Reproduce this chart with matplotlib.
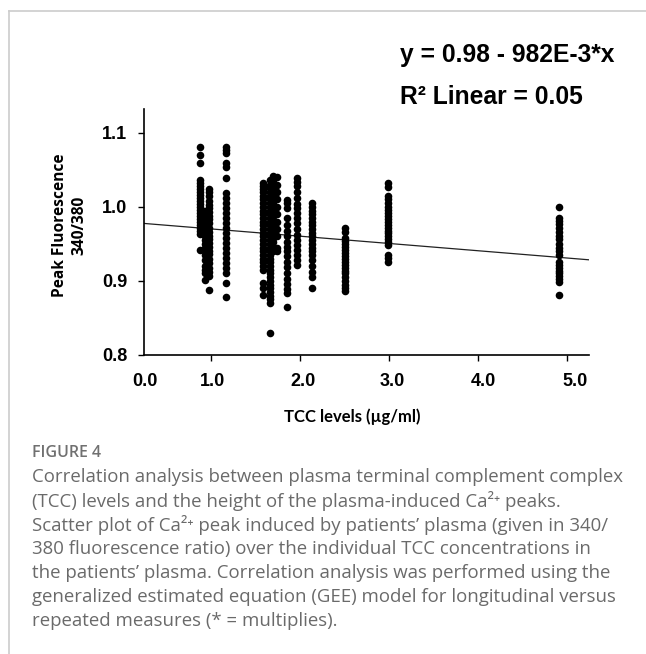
import numpy as np
import matplotlib
matplotlib.use('Agg')
import matplotlib.pyplot as plt
from matplotlib.lines import Line2D

# TCC level of each column of dots (ug/ml)
tcc_levels = [0.88, 0.93, 0.98, 1.17, 1.58, 1.66, 1.70, 1.74, 1.85, 1.97, 2.13, 2.50, 2.99, 4.91]

# peak fluorescence 340/380 for each column
peaks_088 = [1.081, 1.070, 1.059, 1.036, 1.032, 1.028, 1.024, 1.020, 1.016, 1.012, 1.008, 1.004,
             1.000, 0.996, 0.992, 0.988, 0.984, 0.980, 0.976, 0.972, 0.968, 0.963, 0.942]
peaks_093 = [0.995, 0.990, 0.985, 0.975, 0.968, 0.960, 0.955, 0.950, 0.945, 0.940, 0.935, 0.928,
             0.920, 0.915, 0.910, 0.901]
peaks_098 = [1.024, 1.020, 1.015, 1.008, 1.002, 0.998, 0.993, 0.988, 0.983, 0.978, 0.972, 0.966,
             0.961, 0.956, 0.951, 0.946, 0.941, 0.936, 0.930, 0.924, 0.918, 0.912, 0.906, 0.888]
peaks_117 = [1.081, 1.077, 1.072, 1.059, 1.054, 1.039, 1.018, 1.012, 1.005, 0.998, 0.991, 0.985,
             0.978, 0.971, 0.964, 0.958, 0.951, 0.944, 0.937, 0.931, 0.924, 0.917, 0.910, 0.897, 0.878]
peaks_158 = [1.032, 1.028, 1.024, 1.020, 1.015, 1.010, 1.005, 1.000, 0.995, 0.990, 0.985, 0.980,
             0.975, 0.970, 0.965, 0.960, 0.955, 0.950, 0.945, 0.940, 0.935, 0.930, 0.925, 0.920,
             0.915, 0.897, 0.890, 0.881]
peaks_166 = [1.036, 1.030, 1.025, 1.020, 1.015, 1.010, 1.005, 1.000, 0.995, 0.990, 0.985, 0.980,
             0.975, 0.970, 0.965, 0.960, 0.955, 0.950, 0.945, 0.940, 0.935, 0.930, 0.925, 0.920,
             0.915, 0.910, 0.905, 0.900, 0.895, 0.890, 0.885, 0.880, 0.875, 0.870, 0.830]
peaks_170 = [1.041, 1.036, 1.030, 1.024, 1.018, 1.012, 1.006, 1.000, 0.994, 0.988, 0.982, 0.976,
             0.970, 0.964, 0.958, 0.952, 0.946, 0.940]
peaks_174 = [1.040, 1.030, 1.020, 1.010, 1.000, 0.990, 0.980, 0.970, 0.960, 0.945, 0.940]
peaks_185 = [1.009, 1.005, 0.998, 0.985, 0.975, 0.968, 0.960, 0.953, 0.946, 0.940, 0.933, 0.926,
             0.919, 0.910, 0.903, 0.896, 0.889, 0.883, 0.865]
peaks_197 = [1.039, 1.034, 1.028, 1.020, 1.012, 1.004, 0.998, 0.992, 0.985, 0.978, 0.970, 0.962,
             0.955, 0.948, 0.942, 0.935, 0.928, 0.921]
peaks_213 = [1.005, 1.000, 0.995, 0.990, 0.985, 0.980, 0.975, 0.970, 0.965, 0.960, 0.955, 0.950,
             0.945, 0.940, 0.935, 0.928, 0.920, 0.912, 0.905, 0.891]
peaks_250 = [0.971, 0.966, 0.958, 0.954, 0.950, 0.946, 0.942, 0.938, 0.934, 0.930, 0.926, 0.922,
             0.918, 0.914, 0.910, 0.905, 0.900, 0.895, 0.890, 0.886]
peaks_299 = [1.032, 1.027, 1.014, 1.010, 1.005, 1.000, 0.996, 0.992, 0.988, 0.984, 0.980, 0.976,
             0.972, 0.968, 0.964, 0.960, 0.956, 0.952, 0.949, 0.935, 0.931, 0.926]
peaks_491 = [1.000, 0.985, 0.981, 0.977, 0.972, 0.966, 0.961, 0.956, 0.950, 0.945, 0.940, 0.935,
             0.926, 0.922, 0.918, 0.914, 0.910, 0.906, 0.902, 0.899, 0.881]

all_peaks = [peaks_088, peaks_093, peaks_098, peaks_117, peaks_158, peaks_166, peaks_170,
             peaks_174, peaks_185, peaks_197, peaks_213, peaks_250, peaks_299, peaks_491]

# fitted line: y = 0.98 - 982E-3*x
intercept = 0.98
slope = -0.00982

x_ticks = [1, 2, 3, 4, 5]
x_labels = ['0.0', '1.0', '2.0', '3.0', '4.0', '5.0']
x_label_pos = [0.26, 1.02, 2.03, 3.04, 4.06, 5.09]
y_ticks = [0.8, 0.9, 1.0, 1.1]

caption_lines = [
    "Correlation analysis between plasma terminal complement complex",
    "(TCC) levels and the height of the plasma-induced Ca\u00b2\u207a peaks.",
    "Scatter plot of Ca\u00b2\u207a peak induced by patients\u2019 plasma (given in 340/",
    "380 fluorescence ratio) over the individual TCC concentrations in",
    "the patients\u2019 plasma. Correlation analysis was performed using the",
    "generalized estimated equation (GEE) model for longitudinal versus",
    "repeated measures (* = multiplies).",
]

# flatten columns into x/y arrays
xs = []
ys = []
for lvl, col in zip(tcc_levels, all_peaks):
    xs += [lvl] * len(col)
    ys += col
xs = np.array(xs)
ys = np.array(ys)

fig = plt.figure(figsize=(6.46, 6.54), dpi=100)
ax = fig.add_axes([0.2229, 0.4572, 0.6889, 0.3761])

ax.scatter(xs, ys, s=30, color='black', linewidths=0, zorder=3)
ax.axline((0, intercept), slope=slope, color='#222222', linewidth=0.9, zorder=2)

ax.set_xlim(0.247, 5.247)
ax.set_ylim(0.8, 1.132)

for side in ['top', 'right']:
    ax.spines[side].set_visible(False)
for side in ['left', 'bottom']:
    ax.spines[side].set_linewidth(1.2)

# tick marks on the major ticks, labels on (invisible) minor ticks
ax.set_xticks(x_ticks)
ax.set_xticklabels([])
ax.set_xticks(x_label_pos, minor=True)
ax.set_xticklabels(x_labels, minor=True, fontsize=13, fontweight='bold',
                   family='Liberation Sans')
ax.tick_params(axis='x', which='major', direction='out', length=4, width=1)
ax.tick_params(axis='x', which='minor', length=0, pad=13)

ax.set_yticks(y_ticks)
ax.set_yticklabels(['0.8', '0.9', '1.0', '1.1'], fontsize=13, fontweight='bold',
                   family='Liberation Sans')
ax.tick_params(axis='y', direction='out', length=4, width=1, pad=8)

ax.set_xlabel('TCC levels (\u00b5g/ml)', fontsize=12, fontweight='bold', family='Lato')
ax.xaxis.set_label_coords((352 - 144) / 445, -(417 - 355) / 246)
ax.xaxis.label.set_va('center')

fig.text(70 / 646, 1 - 225 / 654, 'Peak Fluorescence\n340/380', rotation=90,
         ha='center', va='center', multialignment='center', fontsize=11.2,
         fontweight='bold', family='Open Sans', linespacing=1.25)

# regression equation
eq_font = ['Liberation Sans Narrow', 'Liberation Sans']
fig.text(400 / 646, 1 - 55 / 654, 'y = 0.98 - 982E-3*x', ha='left', va='center',
         fontsize=17.7, fontweight='bold', family=eq_font)
fig.text(400 / 646, 1 - 97 / 654, 'R\u00b2 Linear = 0.05', ha='left', va='center',
         fontsize=17.7, fontweight='bold', family=eq_font)

# caption
fig.text(32 / 646, 1 - 453 / 654, 'FIGURE 4', ha='left', va='center', fontsize=11.5,
         fontweight='semibold', family='Open Sans', color='#707070')
for i, line in enumerate(caption_lines):
    fig.text(32 / 646, 1 - (477 + 24 * i) / 654, line, ha='left', va='center',
             fontsize=13.4, family=['Open Sans', 'DejaVu Sans'], color='#6a6a6a')

# thin grey frame on top and left like the source page
fig.add_artist(Line2D([9 / 646, 9 / 646], [0, 1 - 11 / 654], transform=fig.transFigure,
                      color='#cccccc', linewidth=1.2))
fig.add_artist(Line2D([9 / 646, 1], [1 - 11 / 654, 1 - 11 / 654], transform=fig.transFigure,
                      color='#cccccc', linewidth=1.2))

plt.savefig('out.png', dpi=100)
